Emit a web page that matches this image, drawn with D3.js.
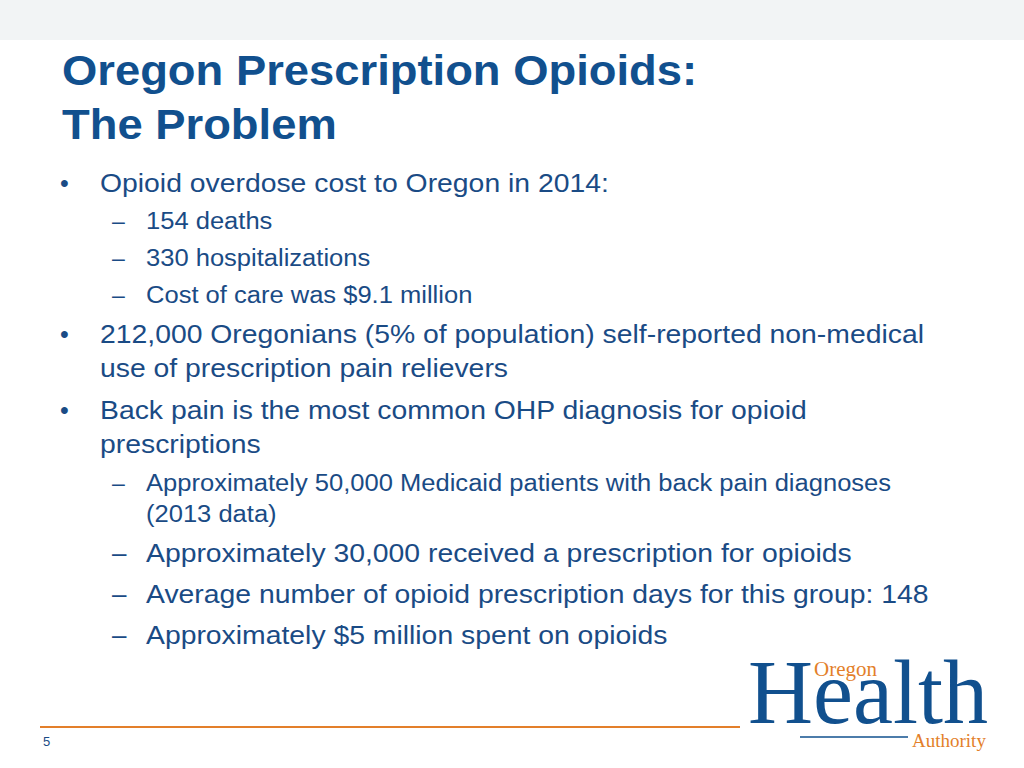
<!DOCTYPE html><html><head><meta charset="utf-8"><script src="https://d3js.org/d3.v7.min.js"></script>
<style>body{margin:0;background:#fff}</style></head><body><script>
const titleLines=["Oregon Prescription Opioids:","The Problem"];
const bulletLevels=[1,2,2,2,1,0,1,0,2,3,2,2,2];
const bulletTexts=["Opioid overdose cost to Oregon in 2014:","154 deaths","330 hospitalizations","Cost of care was $9.1 million",
"212,000 Oregonians (5% of population) self-reported non-medical","use of prescription pain relievers",
"Back pain is the most common OHP diagnosis for opioid","prescriptions",
"Approximately 50,000 Medicaid patients with back pain diagnoses","(2013 data)",
"Approximately 30,000 received a prescription for opioids","Average number of opioid prescription days for this group: 148","Approximately $5 million spent on opioids"];
const bulletSizes=[26,23,23,23,26,26,26,26,23,23,26,26,26];
const baselines=[192,229,266,303,343,377,419,453,491,522,562,603,644];
const svg=d3.select("body").append("svg").attr("width",1024).attr("height",768).style("font-family","Liberation Sans, Arial, sans-serif");
svg.append("rect").attr("width",1024).attr("height",40).attr("fill","#f2f4f5");
function stretch(sel,f){sel.each(function(){const w=this.getComputedTextLength();d3.select(this).attr("textLength",w*f).attr("lengthAdjust","spacingAndGlyphs");});}
stretch(svg.selectAll("text.t").data(titleLines).join("text").attr("x",62).attr("y",(d,i)=>85+i*54).attr("font-size",42).attr("font-weight","bold").attr("fill","#11508e").text(d=>d),1.08);
const col="#1a4b85";
bulletTexts.forEach((t,i)=>{const lv=bulletLevels[i],y=baselines[i],s=bulletSizes[i];
 if(lv===1) svg.append("text").attr("x",60).attr("y",y).attr("font-size",25).attr("fill",col).text("•");
 if(lv===2) svg.append("text").attr("x",112).attr("y",y).attr("font-size",s).attr("fill",col).text("–");
 const x=lv>=2?146:100;
 stretch(svg.append("text").attr("x",x).attr("y",y).attr("font-size",s).attr("fill",col).text(t),s===26?1.09:1.11);});
svg.append("line").attr("x1",40).attr("x2",740).attr("y1",727).attr("y2",727).attr("stroke","#e37f2a").attr("stroke-width",2);
svg.append("text").attr("x",43).attr("y",746).attr("font-size",13).attr("fill","#1a4b85").text("5");
const g=svg.append("g").attr("font-family","Liberation Serif, Times New Roman, serif");
g.append("text").attr("x",748).attr("y",723).attr("font-size",92).attr("fill","#11508e").attr("textLength",240).attr("lengthAdjust","spacingAndGlyphs").text("Health");
g.append("text").attr("x",814).attr("y",676).attr("font-size",21).attr("fill","#e37f2a").text("Oregon");
g.append("text").attr("x",912).attr("y",747).attr("font-size",19).attr("fill","#e37f2a").text("Authority");
g.append("line").attr("x1",800).attr("x2",908).attr("y1",737).attr("y2",737).attr("stroke","#11508e").attr("stroke-width",1.5);
</script></body></html>
